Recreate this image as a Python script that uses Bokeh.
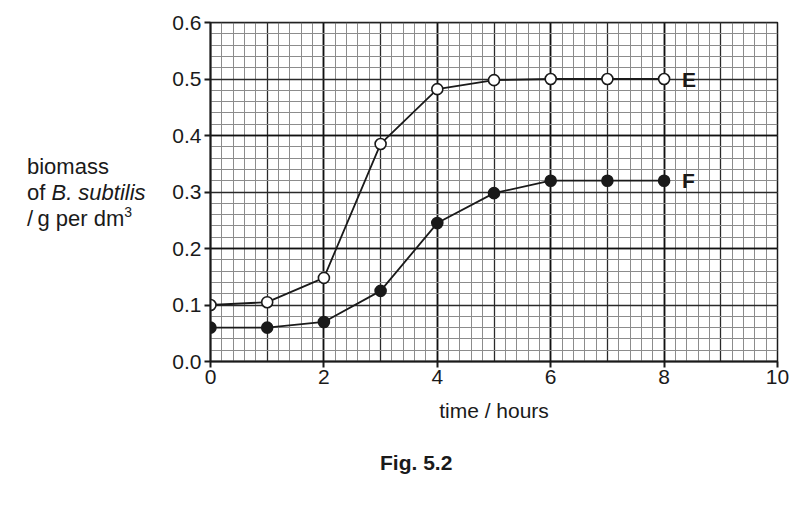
from bokeh.plotting import figure
from bokeh.models import (ColumnDataSource, Label, FixedTicker, Grid,
                          NumeralTickFormatter, Range1d, Div)
from bokeh.layouts import row, column
from bokeh.embed import file_html
from bokeh.resources import INLINE

# data
hours = [0, 1, 2, 3, 4, 5, 6, 7, 8]
biomass_E = [0.100, 0.105, 0.148, 0.385, 0.482, 0.498, 0.500, 0.500, 0.500]
biomass_F = [0.060, 0.060, 0.070, 0.125, 0.245, 0.298, 0.320, 0.320, 0.320]
series_names = ["E", "F"]
x_ticks = [0, 2, 4, 6, 8, 10]
y_ticks = [0.0, 0.1, 0.2, 0.3, 0.4, 0.5, 0.6]

FONT = "Liberation Sans"
INK = "#1a1a1a"

src = ColumnDataSource(dict(x=hours, e=biomass_E, f=biomass_F))

p = figure(width=631, height=440, output_backend="svg", toolbar_location=None,
           x_range=Range1d(0, 10), y_range=Range1d(0, 0.6),
           min_border_left=50, min_border_right=14,
           min_border_top=22, min_border_bottom=79)
p.outline_line_color = INK
p.outline_line_width = 1.5
p.xgrid.visible = False
p.ygrid.visible = False

# graph paper grid: fine, unit and every-two lines
fine_x = [i * 0.2 for i in range(51)]
fine_y = [i * 0.02 for i in range(31)]
unit_x = list(range(11))
unit_y = [i * 0.1 for i in range(7)]
for dim, fine, unit, bold in ((0, fine_x, unit_x, x_ticks),
                              (1, fine_y, unit_y, y_ticks[::2])):
    p.add_layout(Grid(dimension=dim, ticker=FixedTicker(ticks=fine),
                      grid_line_color="#8c8c8c", grid_line_width=1))
    p.add_layout(Grid(dimension=dim, ticker=FixedTicker(ticks=unit),
                      grid_line_color="#2a2a2a", grid_line_width=1.3))
    p.add_layout(Grid(dimension=dim, ticker=FixedTicker(ticks=bold),
                      grid_line_color="#111111", grid_line_width=1.7))

# axes
p.xaxis.ticker = FixedTicker(ticks=x_ticks)
p.yaxis.ticker = FixedTicker(ticks=y_ticks)
p.yaxis.formatter = NumeralTickFormatter(format="0.0")
for ax in (p.xaxis, p.yaxis):
    ax.axis_line_color = INK
    ax.axis_line_width = 2
    ax.major_tick_line_color = INK
    ax.major_tick_line_width = 2
    ax.major_tick_out = 6
    ax.major_tick_in = 0
    ax.minor_tick_line_color = None
    ax.major_label_text_font = FONT
    ax.major_label_text_font_size = "21px"
    ax.major_label_text_color = INK
p.xaxis.major_label_standoff = 2
p.yaxis.major_label_standoff = 3
p.xaxis.axis_label = "time / hours"
p.xaxis.axis_label_text_font = FONT
p.xaxis.axis_label_text_font_size = "21px"
p.xaxis.axis_label_text_font_style = "normal"
p.xaxis.axis_label_text_color = INK
p.xaxis.axis_label_standoff = 12

# curves
p.line("x", "e", source=src, line_color=INK, line_width=1.8)
p.line("x", "f", source=src, line_color=INK, line_width=1.8)
p.scatter("x", "e", source=src, size=11, fill_color="white",
          line_color=INK, line_width=1.6)
p.scatter("x", "f", source=src, size=11, fill_color=INK,
          line_color=INK, line_width=1.6)

# series labels
for name, ys in zip(series_names, [biomass_E, biomass_F]):
    p.add_layout(Label(x=hours[-1], y=ys[-1], text=name, x_offset=18,
                       text_baseline="middle", text_font=FONT,
                       text_font_size="21px", text_font_style="bold",
                       text_color=INK))

# y title (three lines, italic species name, superscript) and caption
ylab = Div(width=160, height=440, margin=0, text=(
    f"<div style='padding:154px 0 0 27px; font:22px \"{FONT}\"; "
    f"line-height:26px; color:{INK}; white-space:nowrap'>"
    "biomass<br>of <i>B. subtilis</i><br>/\u2009g per dm"
    "<span style='font-size:14px; position:relative; top:-9px'>3</span>"
    "</div>"))
caption = Div(width=791, height=50, margin=0, text=(
    f"<div style='padding:11px 0 0 380px; font:bold 21px \"{FONT}\"; "
    f"line-height:24px; color:{INK}; white-space:nowrap'>Fig. 5.2</div>"))

layout = column(row(ylab, p, spacing=0), caption, spacing=0)

open("out.html", "w").write(file_html(layout, INLINE))
